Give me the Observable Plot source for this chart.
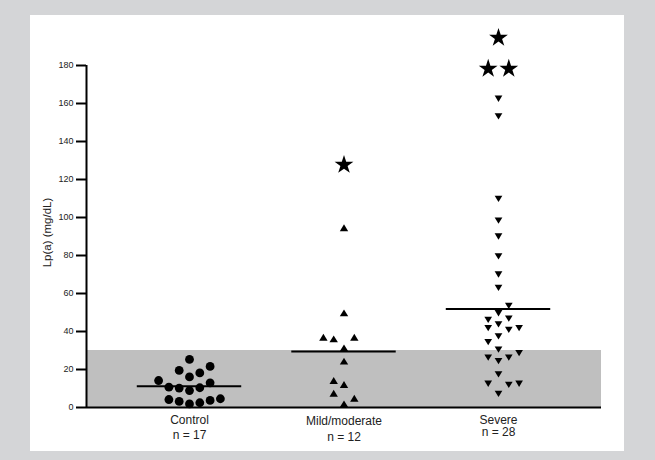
<!DOCTYPE html>
<html><head><meta charset="utf-8">
<script src="https://cdn.jsdelivr.net/npm/d3@7"></script>
<script src="https://cdn.jsdelivr.net/npm/@observablehq/plot@0.6"></script>
<style>
html,body{margin:0;padding:0;background:#d4d5d7;width:655px;height:460px;overflow:hidden}
#panel{position:absolute;left:30px;top:15px;width:594px;height:436px;background:#fff}
</style></head><body><div id="panel"></div>
<script>
// ---- data ----
const categories = ["Control", "Mild/moderate", "Severe"];
const counts = ["n = 17", "n = 12", "n = 28"];
const yTicks = [0, 20, 40, 60, 80, 100, 120, 140, 160, 180];
const yLabel = "Lp(a) (mg/dL)";
const referenceTop = 30;           // shaded reference range 0–30
const medians = [11.2, 29.5, 51.9];

// values and jitter slot (column offset within the group)
const controlValues = [25.3, 19.5, 21.6, 18.2, 16.1, 14.2, 13.0, 10.7, 10.2, 8.9, 10.4, 4.2, 3.2, 1.9, 2.5, 3.7, 4.6];
const controlSlots  = [0, -1, 2, 1, 0, -3, 2, -2, -1, 0, 1, -2, -1, 0, 1, 2, 3];

const mildValues = [94.6, 49.8, 37.0, 36.1, 37.0, 31.4, 24.4, 14.2, 12.1, 7.5, 4.9, 1.9];
const mildSlots  = [0, 0, -2, -1, 1, 0, 0, -1, 0, -1, 1, 0];
const mildStarValues = [127.7];
const mildStarSlots  = [0];

const severeValues = [162.5, 153.2, 109.8, 98.4, 90.0, 79.5, 70.0, 63.0, 53.5, 49.6, 46.1, 46.8, 41.8, 43.7, 40.9, 41.8,
                      34.4, 37.4, 30.5, 28.6, 26.2, 24.4, 26.2, 17.4, 12.5, 11.9, 12.5, 7.2];
const severeSlots  = [0, 0, 0, 0, 0, 0, 0, 0, 1, 0, -1, 1, -1, 0, 1, 2, -1, 0, 0, 2, -1, 0, 1, 0, -1, 1, 2, 0];
const severeStarValues = [194.6, 178.3, 178.3];
const severeStarSlots  = [0, -1, 1];

// ---- build tables ----
const slotWidth = 1 / 15;
const rows = (g, vals, slots) => vals.map((v, i) => ({x: g + slots[i] * slotWidth, y: v}));
const control = rows(0, controlValues, controlSlots);
const mild = rows(1, mildValues, mildSlots);
const mildStars = rows(1, mildStarValues, mildStarSlots);
const severe = rows(2, severeValues, severeSlots);
const severeStars = rows(2, severeStarValues, severeStarSlots);

const triUp = {draw(ctx, size) {
  const w = Math.sqrt(size) * 1.55, h = w * 0.82;
  ctx.moveTo(0, -h / 2); ctx.lineTo(w / 2, h / 2); ctx.lineTo(-w / 2, h / 2); ctx.closePath();
}};
const triDown = {draw(ctx, size) {
  const w = Math.sqrt(size) * 1.55, h = w * 0.82;
  ctx.moveTo(0, h / 2); ctx.lineTo(w / 2, -h / 2); ctx.lineTo(-w / 2, -h / 2); ctx.closePath();
}};

const xmin = -2 / 3, xmax = 2 + 2 / 3;
const font = "'Liberation Sans', Arial, sans-serif";
const namesDy = [16, 17.5, 16];
const countsDy = [31, 33, 28.5];

const chart = Plot.plot({
  width: 594,
  height: 436,
  marginLeft: 56,
  marginRight: 23,
  marginTop: 50,
  marginBottom: 44,
  style: {fontFamily: font, background: "transparent", color: "#000", overflow: "visible"},
  x: {type: "linear", domain: [xmin, xmax], axis: null},
  y: {domain: [0, 180], axis: null},
  marks: [
    Plot.rectY([referenceTop], {x1: xmin, x2: xmax, y1: 0, y2: d => d, fill: "#bfbfbf"}),
    Plot.axisY({ticks: yTicks, tickSize: 10, tickPadding: 3, strokeWidth: 2, fontSize: 9, fill: "#222", label: null}),
    Plot.ruleX([xmin], {y1: 0, y2: 180, strokeWidth: 2}),
    Plot.ruleY([0], {strokeWidth: 2}),
    Plot.text([yLabel], {frameAnchor: "left", textAnchor: "middle", rotate: -90, dx: -39, dy: -4, fontSize: 11.5, fill: "#222"}),
    ...categories.map((c, i) => Plot.text([c], {x: [i], frameAnchor: "bottom", textAnchor: "middle", dy: namesDy[i], fontSize: 12, fill: "#222", style: "letter-spacing:0.3px"})),
    ...counts.map((c, i) => Plot.text([c], {x: [i], frameAnchor: "bottom", textAnchor: "middle", dy: countsDy[i], fontSize: 12, fill: "#222"})),
    Plot.dot(control, {x: "x", y: "y", r: 4.4, symbol: "circle", fill: "#000", stroke: "none"}),
    Plot.dot(mild, {x: "x", y: "y", r: 3.05, symbol: triUp, fill: "#000", stroke: "none"}),
    Plot.dot(severe, {x: "x", y: "y", r: 2.8, symbol: triDown, fill: "#000", stroke: "none"}),
    Plot.dot(mildStars, {x: "x", y: "y", r: 5.9, symbol: "star", fill: "#000", stroke: "none"}),
    Plot.dot(severeStars, {x: "x", y: "y", r: 5.9, symbol: "star", fill: "#000", stroke: "none"}),
    Plot.ruleY(medians, {y: d => d, x1: (d, i) => i - 0.338, x2: (d, i) => i + 0.338, strokeWidth: 2})
  ]
});
document.getElementById("panel").appendChild(chart);
</script>
</body></html>
